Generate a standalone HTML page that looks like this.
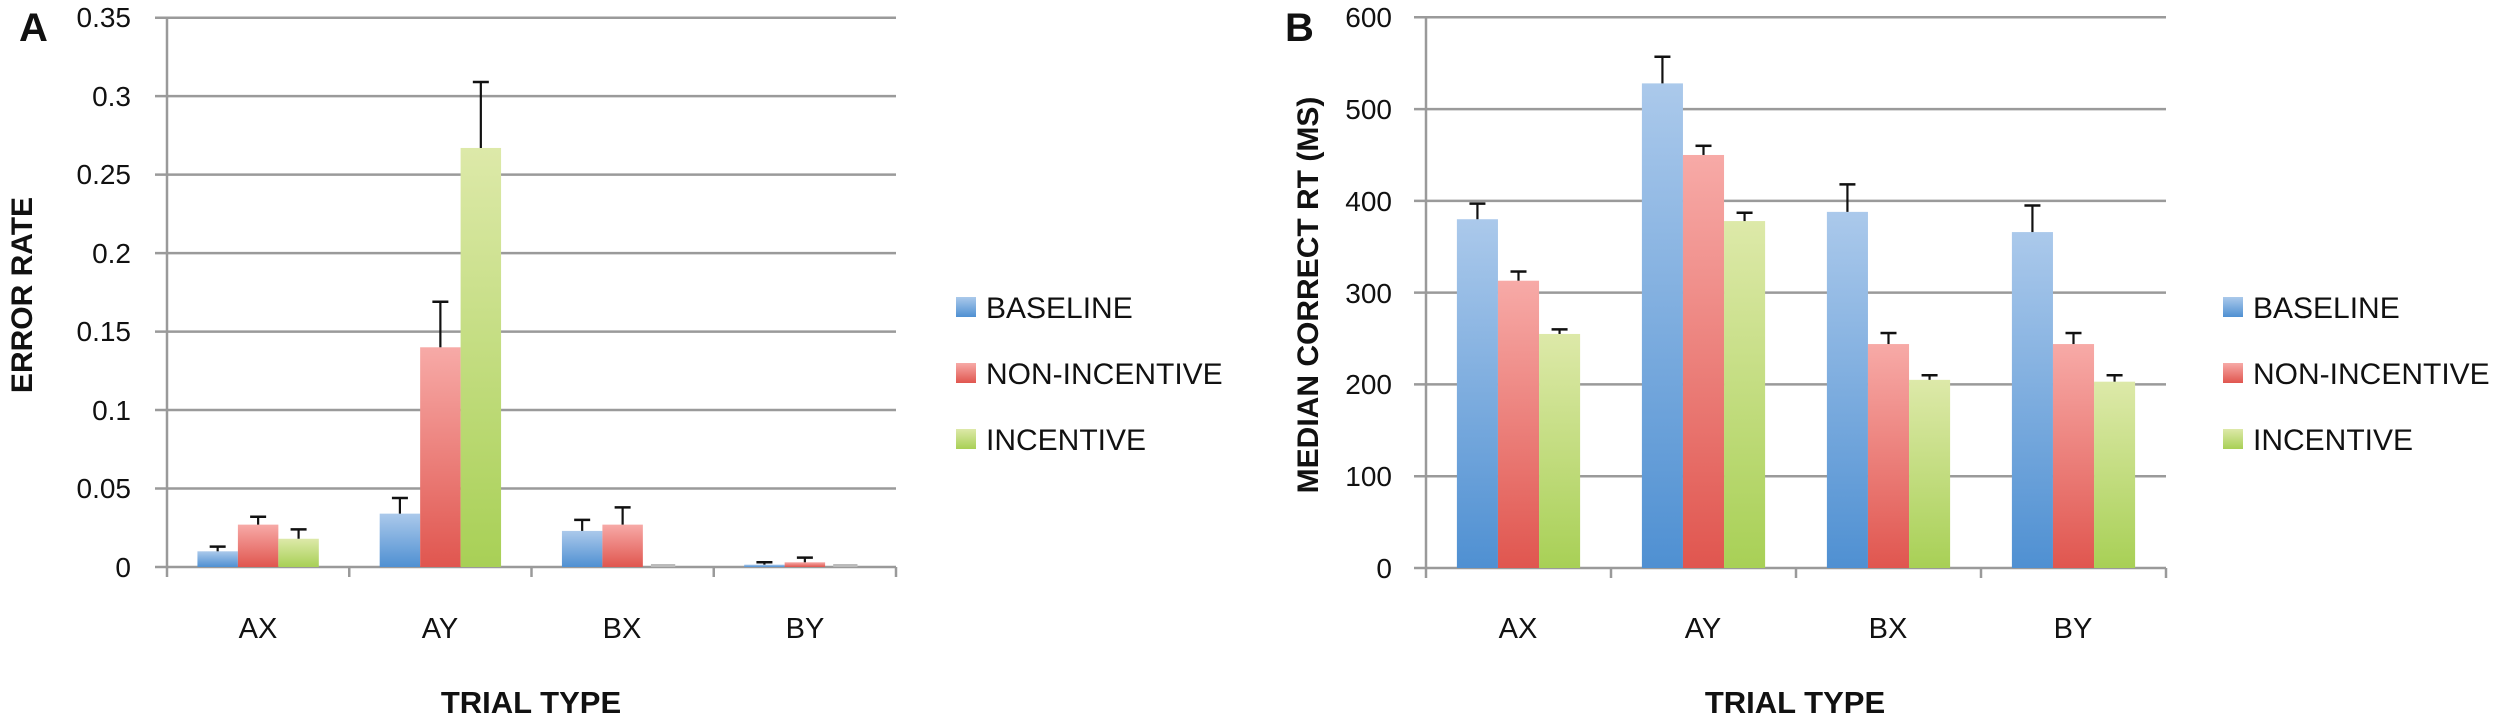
<!DOCTYPE html>
<html><head><meta charset="utf-8"><style>
html,body{margin:0;padding:0;background:#fff;width:2500px;height:724px;overflow:hidden}
svg{display:block}
text{font-family:"Liberation Sans",sans-serif;fill:#111}
.t{font-size:28px}
.l{font-size:30px}
.c{font-size:29px}
.b{font-weight:bold}
</style></head><body>
<svg id="s" width="2500" height="724" xmlns="http://www.w3.org/2000/svg">
<defs>
<linearGradient id="gb" x1="0" y1="0" x2="0" y2="1"><stop offset="0" stop-color="#abc9eb"/><stop offset="1" stop-color="#4f90d2"/></linearGradient>
<linearGradient id="gr" x1="0" y1="0" x2="0" y2="1"><stop offset="0" stop-color="#f7aaa7"/><stop offset="1" stop-color="#e0564f"/></linearGradient>
<linearGradient id="gg" x1="0" y1="0" x2="0" y2="1"><stop offset="0" stop-color="#dde9a9"/><stop offset="1" stop-color="#a8d056"/></linearGradient>
</defs>
<g id="grid"></g>
<g id="bars"></g>
<text x="19" y="41" class="b" font-size="40">A</text>
<g class="t" text-anchor="end">
<text x="131" y="27">0.35</text><text x="131" y="106">0.3</text><text x="131" y="184">0.25</text>
<text x="131" y="263">0.2</text><text x="131" y="341">0.15</text><text x="131" y="420">0.1</text>
<text x="131" y="498">0.05</text><text x="131" y="577">0</text>
</g>
<text transform="translate(32,295) rotate(-90)" text-anchor="middle" class="b" font-size="30">ERROR RATE</text>
<g class="c" text-anchor="middle">
<text x="258" y="638">AX</text><text x="440" y="638">AY</text><text x="622" y="638">BX</text><text x="805" y="638">BY</text>
</g>
<text x="531" y="713" text-anchor="middle" class="b" font-size="31">TRIAL TYPE</text>
<rect x="956" y="297" width="20" height="20" fill="url(#gb)"/><text x="986" y="318" class="l">BASELINE</text>
<rect x="956" y="363" width="20" height="20" fill="url(#gr)"/><text x="986" y="384" class="l">NON-INCENTIVE</text>
<rect x="956" y="429" width="20" height="20" fill="url(#gg)"/><text x="986" y="450" class="l">INCENTIVE</text>
<text x="1285" y="41" class="b" font-size="40">B</text>
<g class="t" text-anchor="end">
<text x="1392" y="27">600</text><text x="1392" y="119">500</text><text x="1392" y="211">400</text>
<text x="1392" y="303">300</text><text x="1392" y="394">200</text><text x="1392" y="486">100</text>
<text x="1392" y="578">0</text>
</g>
<text transform="translate(1318,295) rotate(-90)" text-anchor="middle" class="b" font-size="30">MEDIAN CORRECT RT (MS)</text>
<g class="c" text-anchor="middle">
<text x="1518" y="638">AX</text><text x="1703" y="638">AY</text><text x="1888" y="638">BX</text><text x="2073" y="638">BY</text>
</g>
<text x="1795" y="713" text-anchor="middle" class="b" font-size="31">TRIAL TYPE</text>
<rect x="2223" y="297" width="20" height="20" fill="url(#gb)"/><text x="2253" y="318" class="l">BASELINE</text>
<rect x="2223" y="363" width="20" height="20" fill="url(#gr)"/><text x="2253" y="384" class="l">NON-INCENTIVE</text>
<rect x="2223" y="429" width="20" height="20" fill="url(#gg)"/><text x="2253" y="450" class="l">INCENTIVE</text>
</svg>
<script>
(function(){
var NS="http://www.w3.org/2000/svg";
var grid=document.getElementById("grid"),bars=document.getElementById("bars");
function el(p,n,a){var e=document.createElementNS(NS,n);for(var k in a)e.setAttribute(k,a[k]);p.appendChild(e);return e;}
function panel(ax,cw,y0,ytop,nGrid,maxv,vals,errs){
  var right=ax+4*cw, ppu=(y0-ytop)/maxv;
  for(var i=0;i<=nGrid;i++){var y=ytop+i*(y0-ytop)/nGrid;el(grid,"line",{x1:ax-12,x2:right,y1:y,y2:y,stroke:"#9a9a9a","stroke-width":2.5});}
  el(grid,"line",{x1:ax,x2:ax,y1:ytop,y2:y0+10,stroke:"#9a9a9a","stroke-width":2.5});
  for(var c=1;c<=4;c++){el(grid,"line",{x1:ax+c*cw,x2:ax+c*cw,y1:y0,y2:y0+10,stroke:"#9a9a9a","stroke-width":2.5});}
  var g=["url(#gb)","url(#gr)","url(#gg)"],bw=cw*0.222,off=(cw-3*bw)/2;
  for(var c=0;c<4;c++)for(var s=0;s<3;s++){
    var v=vals[c][s],e=errs[c][s],x=ax+c*cw+off+s*bw,yt=y0-v*ppu;
    if(v>0){el(bars,"rect",{x:x,y:yt,width:bw,height:y0-yt,fill:g[s]});}
    else{el(bars,"rect",{x:x+bw*0.2,y:y0-3,width:bw*0.6,height:3,fill:"#bbb"});}
    if(e>v){var ye=y0-e*ppu,cx=x+bw/2;
      el(bars,"line",{x1:cx,x2:cx,y1:yt,y2:ye,stroke:"#111","stroke-width":2.2});
      el(bars,"line",{x1:cx-8,x2:cx+8,y1:ye,y2:ye,stroke:"#111","stroke-width":2.5});}
  }
}
panel(167,182.25,567,17.7,7,0.35,
 [[0.010,0.027,0.018],[0.034,0.140,0.267],[0.023,0.027,0],[0.0015,0.003,0]],
 [[0.013,0.032,0.024],[0.044,0.169,0.309],[0.030,0.038,0],[0.003,0.006,0]]);
panel(1426,185,568,17.3,6,600,
 [[380,313,255],[528,450,378],[388,244,205],[366,244,203]],
 [[397,323,260],[557,460,387],[418,256,210],[395,256,210]]);
})();
</script>
</body></html>
